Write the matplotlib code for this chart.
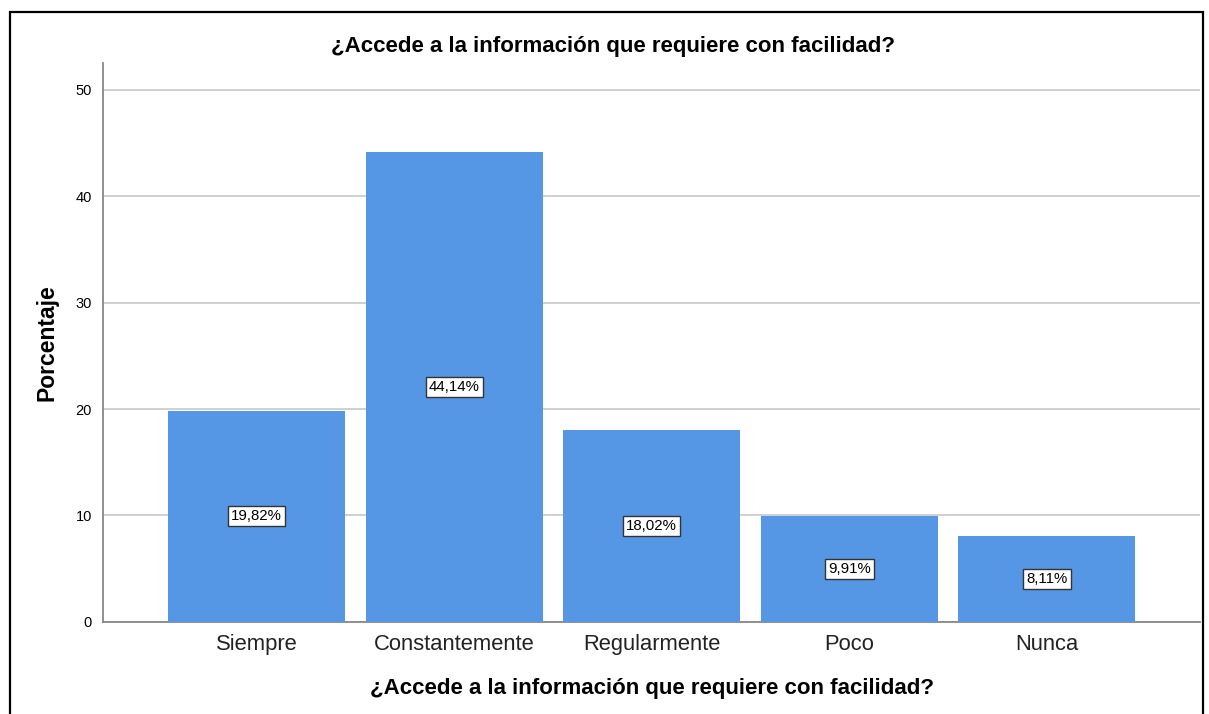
import matplotlib.pyplot as plt
from matplotlib.patches import Rectangle

plt.rcParams['font.family'] = ['Liberation Sans', 'DejaVu Sans']

# Data
categorias = ["Siempre", "Constantemente", "Regularmente", "Poco", "Nunca"]
porcentajes = [19.82, 44.14, 18.02, 9.91, 8.11]
etiquetas = ["19,82%", "44,14%", "18,02%", "9,91%", "8,11%"]
titulo = "¿Accede a la información que requiere con facilidad?"

fig = plt.figure(figsize=(12.09, 7.14), dpi=100)
ax = fig.add_axes([0.0852, 0.1289, 0.9074, 0.7829])

x = list(range(len(categorias)))
ax.bar(x, porcentajes, width=0.895, color='#5596e5', zorder=3)

for xi, val, lab in zip(x, porcentajes, etiquetas):
    ax.text(xi, val / 2, lab, ha='center', va='center', fontsize=10.8, zorder=4,
            bbox=dict(boxstyle='square,pad=0.2', facecolor='white', edgecolor='#333333', linewidth=1))

ax.set_xlim(-0.777, 4.775)
ax.set_ylim(0, 52.5)
ax.set_yticks([0, 10, 20, 30, 40, 50])
ax.set_xticks(x)
ax.set_xticklabels(categorias, fontsize=15.8, color='#222222')
ax.tick_params(axis='y', labelsize=10.5, length=0, pad=8)
ax.tick_params(axis='x', length=0, pad=9)
ax.yaxis.grid(True, color='#cccccc', linewidth=1.3, zorder=0)
ax.set_axisbelow(True)

for s in ['top', 'right']:
    ax.spines[s].set_visible(False)
for s in ['left', 'bottom']:
    ax.spines[s].set_color('#888888')
    ax.spines[s].set_linewidth(1.3)

ax.set_ylabel("Porcentaje", fontsize=16.5, fontweight='bold', labelpad=12)
ax.set_xlabel(titulo, fontsize=16, fontweight='bold', labelpad=16)
fig.text(0.507, 0.935, titulo, ha='center', va='center', fontsize=16, fontweight='bold')

# outer frame
fig.patches.append(Rectangle((10 / 1209, -0.05), 1193 / 1209, 1.05 - 12 / 714,
                             transform=fig.transFigure, fill=False,
                             edgecolor='black', linewidth=1.6))

fig.savefig("out.png", dpi=100)
